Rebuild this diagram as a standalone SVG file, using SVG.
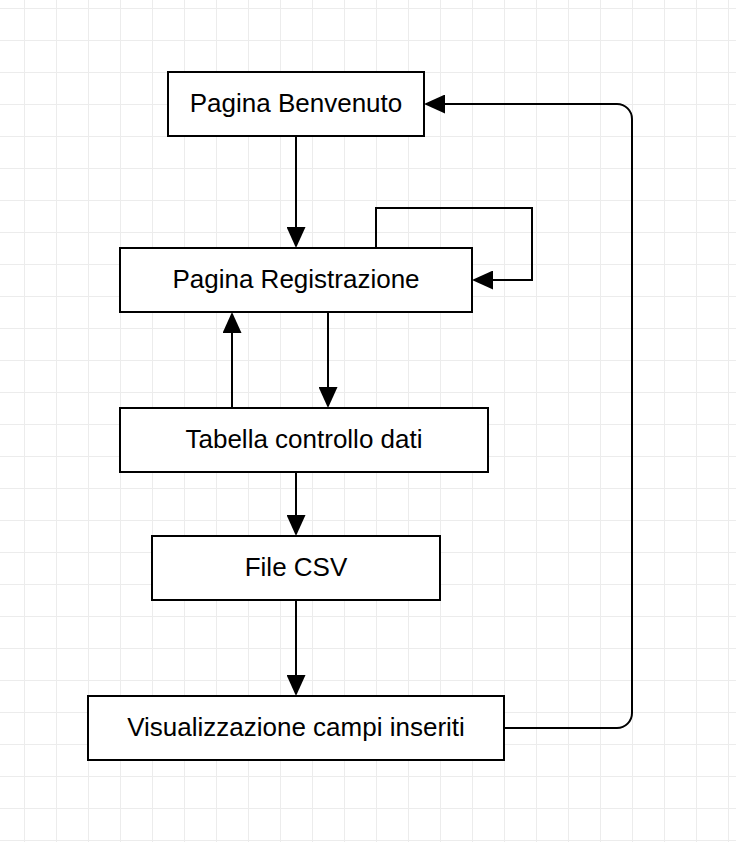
<svg xmlns="http://www.w3.org/2000/svg" width="736" height="842" viewBox="0 0 736 842">
  <style>
    .node rect { fill: #ffffff; stroke: #000000; stroke-width: 2; }
    .node text { font-family: "Liberation Sans", Arial, sans-serif; font-size: 26px; fill: #000000; text-anchor: middle; }
    .edge { fill: none; stroke: #000000; stroke-width: 2; marker-end: url(#arrow); }
  </style>
  <defs>
    <pattern id="grid" x="0" y="0" width="32" height="32" patternUnits="userSpaceOnUse">
      <path d="M24.5 0 V32 M0 8.5 H32" stroke="#ececec" stroke-width="1" fill="none"/>
    </pattern>
    <marker id="arrow" markerUnits="userSpaceOnUse" markerWidth="21" markerHeight="19" viewBox="0 0 21 19" refX="19" refY="9.5" orient="auto">
      <path d="M0,0 L21,9.5 L0,19 z" fill="#000000"/>
    </marker>
  </defs>
  <rect x="0" y="0" width="736" height="842" fill="#ffffff"/>
  <rect x="0" y="0" width="736" height="842" fill="url(#grid)"/>

  <g id="connectors">
    <path class="edge" d="M296 137 V246"/>
    <path class="edge" d="M376 247 V208 H532 V280 H474"/>
    <path class="edge" d="M232 407 V314"/>
    <path class="edge" d="M328 313 V406"/>
    <path class="edge" d="M296 473 V534"/>
    <path class="edge" d="M296 601 V694"/>
    <path class="edge" d="M505 728 H617 A15 15 0 0 0 632 713 V119 A15 15 0 0 0 617 104 H426"/>
  </g>

  <g id="node-benvenuto" class="node">
    <rect x="168" y="72" width="256" height="64"/>
    <text x="296" y="112">Pagina Benvenuto</text>
  </g>
  <g id="node-registrazione" class="node">
    <rect x="120" y="248" width="352" height="64"/>
    <text x="296" y="288">Pagina Registrazione</text>
  </g>
  <g id="node-tabella" class="node">
    <rect x="120" y="408" width="368" height="64"/>
    <text x="304" y="448">Tabella controllo dati</text>
  </g>
  <g id="node-csv" class="node">
    <rect x="152" y="536" width="288" height="64"/>
    <text x="296" y="576">File CSV</text>
  </g>
  <g id="node-visualizzazione" class="node">
    <rect x="88" y="696" width="416" height="64"/>
    <text x="296" y="736">Visualizzazione campi inseriti</text>
  </g>
</svg>
